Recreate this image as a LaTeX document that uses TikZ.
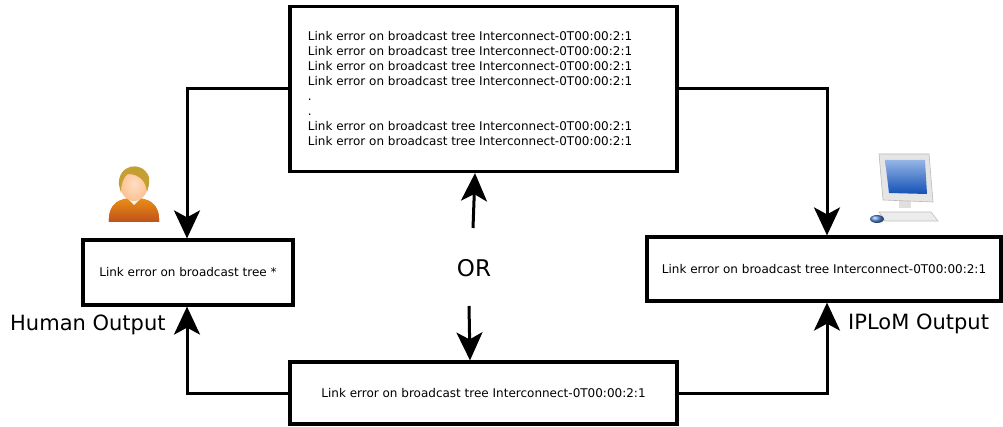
\documentclass[tikz,border=0pt]{standalone}
\usepackage{fontspec}
\setmainfont{DejaVu Sans}
\usetikzlibrary{arrows.meta,calc,positioning}
\definecolor{skin}{RGB}{252,200,160}
\definecolor{hair}{RGB}{196,160,50}
\definecolor{shirt}{RGB}{225,95,30}
\definecolor{screenblue}{RGB}{20,90,200}
\tikzset{
  msgbox/.style={draw=black, line width=3.2pt, fill=white, inner sep=0pt},
  msg/.style={font=\fontsize{12}{15}\selectfont, align=left},
  flow/.style={line width=3pt, -{Stealth[length=28pt,width=26pt,inset=7pt]}},
  caption/.style={font=\fontsize{21}{24}\selectfont},
}
\begin{document}
\begin{tikzpicture}[x=1pt,y=-1pt]
\useasboundingbox (0,0) rectangle (1003,427);

% message boxes
\node[msgbox, minimum width=387pt, minimum height=165pt] (top) at (483.5,89) {};
\node[msg, anchor=west] (toptext) at ($(top.west)+(16,0)$) {%
Link error on broadcast tree Interconnect-0T00:00:2:1\\
Link error on broadcast tree Interconnect-0T00:00:2:1\\
Link error on broadcast tree Interconnect-0T00:00:2:1\\
Link error on broadcast tree Interconnect-0T00:00:2:1\\
.\\
.\\
Link error on broadcast tree Interconnect-0T00:00:2:1\\
Link error on broadcast tree Interconnect-0T00:00:2:1};

\node[msgbox, minimum width=210pt, minimum height=65pt] (human) at (188,272.5) {};
\node[msg] (humantext) at (human.center) {Link error on broadcast tree *};

\node[msgbox, minimum width=354pt, minimum height=64pt] (iplom) at (824,269) {};
\node[msg] (iplomtext) at (iplom.center) {Link error on broadcast tree Interconnect-0T00:00:2:1};

\node[msgbox, minimum width=387pt, minimum height=62pt] (bottom) at (483.5,393) {};
\node[msg] (bottomtext) at (bottom.center) {Link error on broadcast tree Interconnect-0T00:00:2:1};

% captions
\node[caption, anchor=west, inner sep=0pt] (humancap) at (10,325) {Human Output};
\node[caption, anchor=west, inner sep=0pt] (iplomcap) at (848,324) {IPLoM Output};
\node[caption, font=\fontsize{23}{26}\selectfont] (or) at (474,268) {OR};

% connectors
\draw[flow] (top.west) -| ($(human.north)+(-1,0)$);
\draw[flow] (top.east) -| ($(iplom.north)+(3,0)$);
\draw[flow] (bottom.west) -| ($(human.south)+(-1,0)$);
\draw[flow] (bottom.east) -| ($(iplom.south)+(3,0)$);
\coordinate (orup) at (473,228);
\coordinate (ordown) at (469,306);
\draw[flow] (orup) -- ($(top.south)+(-8.5,0)$);
\draw[flow] (ordown) -- ($(bottom.north)+(-13.5,0)$);

% person icon
\begin{scope}[shift={(134,195)}]
  \node[inner sep=0pt] (person) at (0,0) {};
  \fill[shirt, top color=shirt!70!yellow, bottom color=shirt!85!black]
    (-25,27) .. controls (-26,8) and (-14,3) .. (0,3) .. controls (14,3) and (26,8) .. (25,27) -- cycle;
  \fill[white!90!gray] (-6,4) -- (6,4) -- (0,10) -- cycle;
  \shade[inner color=skin!60!white, outer color=skin!90!orange] (0,-11) ellipse (14pt and 17pt);
  \fill[hair] (-15,-10) .. controls (-17,-30) and (8,-36) .. (15,-18)
     .. controls (16,-12) and (14,-6) .. (13,-3)
     .. controls (12,-14) and (5,-21) .. (-6,-21)
     .. controls (-10,-19) and (-13,-12) .. (-13,-2) -- cycle;
\end{scope}

% computer icon
\begin{scope}[shift={(905,190)}]
  \node[inner sep=0pt] (computer) at (0,0) {};
  % keyboard
  \fill[gray!15, draw=gray!50, line width=0.6pt] (-26,22) -- (26,22) -- (33,31) -- (-20,31) -- cycle;
  % stand
  \fill[gray!25] (-6,8) rectangle (6,18);
  % monitor
  \fill[gray!20, draw=gray!55, line width=0.6pt] (-26,-36) -- (24,-36) -- (28,12) -- (-22,10) -- cycle;
  \shade[top color=screenblue!45!white, bottom color=screenblue!90!black] (-20,-30) -- (20,-30) -- (22,4) -- (-16,3) -- cycle;
  % mouse
  \shade[ball color=screenblue!70!white] (-28,29) ellipse (7pt and 4pt);
\end{scope}
\end{tikzpicture}
\end{document}
